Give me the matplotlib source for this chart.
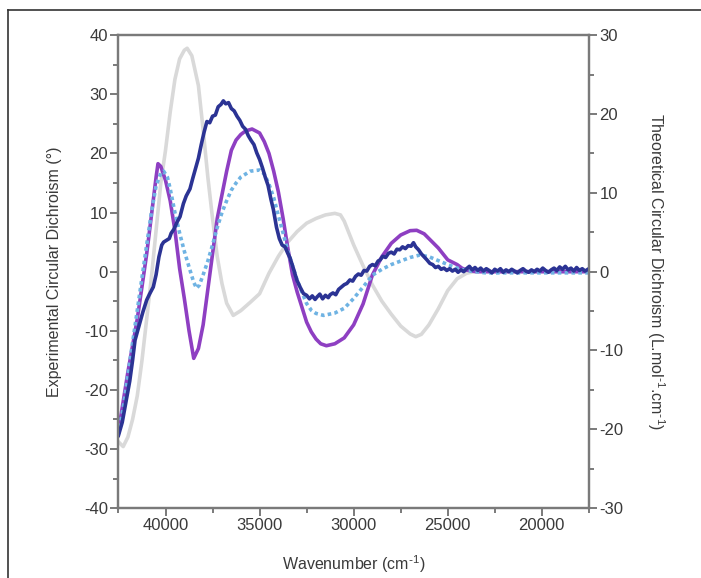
import matplotlib
matplotlib.use("Agg")
import matplotlib.pyplot as plt
from matplotlib import ticker
from matplotlib.lines import Line2D

plt.rcParams["font.family"] = ["Liberation Sans", "DejaVu Sans"]
plt.rcParams["mathtext.default"] = "regular"
plt.rcParams["axes.unicode_minus"] = False

# experimental CD (left axis, degrees)
exp_wn = [42500, 42300, 42100, 41900, 41750, 41620, 41500, 41350, 41200, 41000, 40850, 40650,
          40500, 40350, 40200, 40100, 39950, 39800, 39700, 39550, 39400, 39229, 39050, 38900,
          38700, 38550, 38400, 38250, 38100, 37950, 37800, 37650, 37500, 37350, 37200, 37050,
          36926, 36800, 36650, 36500, 36350, 36200, 36050, 35900, 35750, 35600, 35450, 35300,
          35150, 35000, 34850, 34700, 34550, 34400, 34266, 34100, 33950, 33800, 33650, 33500,
          33378, 33200, 33022, 32850, 32670, 32500, 32350, 32200, 32050, 31950, 31800, 31650,
          31500, 31350, 31250, 31100, 30950, 30800, 30650, 30500, 30362, 30200, 30050, 29900,
          29750, 29600, 29450, 29300, 29150, 29000, 28850, 28700, 28590, 28450, 28300, 28150,
          28000, 27850, 27700, 27550, 27400, 27250, 27100, 26950, 26820, 26700, 26550, 26400,
          26250, 26107, 25950, 25800, 25650, 25500, 25350, 25200, 25050, 24900, 24750, 24600,
          24450, 24300, 24150, 24000, 23850, 23700, 23550, 23400, 23250, 23100, 22950, 22800,
          22650, 22500, 22350, 22200, 22050, 21900, 21750, 21600, 21450, 21300, 21150, 21000,
          20850, 20700, 20550, 20400, 20250, 20100, 19950, 19800, 19650, 19500, 19350, 19200,
          19050, 18900, 18750, 18600, 18450, 18300, 18150, 18000, 17850, 17700, 17550]
exp_cd = [-27.7, -25.5, -22.0, -18.5, -15.0, -11.6, -10.2, -8.5, -6.8, -4.8, -3.8, -2.6,
          -0.5, 2.5, 4.5, 5.0, 5.3, 5.6, 6.5, 7.2, 8.3, 9.3, 11.5, 12.8,
          14.0, 15.8, 17.5, 19.2, 21.5, 23.6, 25.4, 25.2, 26.3, 26.5, 27.9, 28.3,
          28.9, 28.4, 28.6, 27.6, 27.2, 26.3, 25.6, 24.6, 24.1, 23.0, 22.2, 21.5,
          20.1, 19.0, 17.6, 16.0, 14.6, 12.3, 10.5, 7.5, 5.6, 4.5, 4.2, 3.1,
          2.3, 0.5, -1.4, -2.6, -3.7, -4.0, -4.6, -4.1, -4.7, -4.3, -3.8, -4.6,
          -4.0, -4.4, -3.9, -3.6, -3.9, -3.0, -2.6, -2.2, -2.0, -1.4, -1.6, -0.8,
          -0.4, -0.6, 0.2, 0.1, 0.9, 1.2, 1.0, 1.8, 2.0, 2.6, 2.4, 3.1,
          3.3, 3.0, 3.8, 3.7, 4.2, 3.9, 4.4, 4.3, 4.9, 4.2, 3.7, 3.0,
          2.5, 2.0, 1.4, 1.2, 0.7, 0.9, 0.4, 0.6, 0.2, 0.5, 0.1, 0.4,
          -0.1, 0.3, 0.0, 0.5, 0.9, 0.3, 0.7, 0.2, 0.6, 0.1, 0.5, 0.2,
          -0.2, 0.4, 0.1, 0.5, -0.1, 0.3, 0.0, 0.4, 0.1, -0.2, 0.2, 0.5,
          0.1, -0.1, 0.3, 0.0, 0.4, 0.1, 0.6, 0.2, -0.1, 0.3, 0.6, 0.2,
          0.8, 0.4, 0.9, 0.3, 0.6, 0.1, 0.7, 0.2, 0.5, 0.1, 0.4]

# theoretical CD (right axis, L.mol-1.cm-1)
purple_wn = [42500, 42250, 42000, 41750, 41500, 41250, 41000, 40750, 40500, 40400, 40250, 40000,
             39750, 39500, 39250, 39000, 38750, 38500, 38250, 38000, 37750, 37500, 37250, 37000,
             36750, 36500, 36250, 36000, 35750, 35400, 35000, 34750, 34500, 34250, 34000, 33750,
             33500, 33250, 33000, 32750, 32500, 32250, 32000, 31750, 31450, 31000, 30500, 30000,
             29500, 29000, 28500, 28000, 27500, 27000, 26650, 26250, 25750, 25500, 25250, 25000,
             24500, 24250, 24000, 23500, 17500]
purple_cd = [-20.25, -16.5, -12.75, -9.4, -6.0, -1.9, 2.25, 7.1, 12.0, 13.7, 13.35, 11.6,
             9.0, 5.25, 0.4, -3.4, -7.5, -11.0, -9.75, -6.75, -2.25, 2.25, 6.75, 9.75,
             12.75, 15.4, 16.7, 17.4, 17.85, 18.1, 17.6, 16.5, 15.0, 12.75, 10.1, 6.75,
             3.0, -0.4, -2.6, -4.5, -6.4, -7.65, -8.55, -9.15, -9.4, -9.15, -8.4, -6.75,
             -4.1, -0.4, 1.9, 3.6, 4.65, 5.2, 5.25, 4.8, 3.6, 3.0, 2.25, 1.5,
             0.9, 0.45, 0.2, 0.0, 0.0]

lightblue_wn = [42500, 42250, 42000, 41750, 41500, 41250, 41000, 40750, 40500, 40250, 40100, 39900,
                39750, 39500, 39250, 39000, 38750, 38500, 38350, 38200, 38000, 37750, 37500, 37250,
                37000, 36750, 36500, 36250, 36000, 35500, 35000, 34750, 34500, 34250, 34000, 33750,
                33500, 33250, 33000, 32750, 32500, 32250, 32000, 31600, 31000, 30500, 30000, 29500,
                29000, 28500, 28000, 27500, 27000, 26500, 26000, 25500, 25000, 24500, 24000, 23500,
                23000, 17500]
lightblue_cd = [-20.6, -17.25, -13.1, -9.0, -4.9, -0.75, 3.4, 7.5, 10.9, 12.5, 12.75, 12.0,
                10.5, 7.5, 4.9, 2.6, 0.6, -1.35, -2.1, -1.7, -0.4, 1.35, 3.4, 5.6,
                7.5, 9.0, 10.35, 11.25, 12.0, 12.75, 12.9, 12.4, 11.1, 9.4, 7.1, 4.9,
                2.6, 0.75, -1.1, -2.6, -4.05, -4.9, -5.3, -5.55, -5.25, -4.65, -3.4, -1.95,
                -0.45, 0.3, 0.9, 1.35, 1.8, 2.1, 1.9, 1.4, 0.9, 0.45, 0.15, 0.0,
                -0.15, -0.15]

gray_wn = [42500, 42250, 42000, 41750, 41500, 41250, 41000, 40750, 40500, 40250, 40000, 39750,
           39500, 39250, 39000, 38850, 38600, 38250, 38000, 37750, 37500, 37250, 37000, 36750,
           36400, 36000, 35500, 35000, 34500, 34000, 33500, 33000, 32500, 32000, 31500, 31000,
           30700, 30500, 30000, 29500, 29000, 28500, 28000, 27500, 27000, 26700, 26400, 26000,
           25500, 25000, 24500, 24000, 23600, 17500]
gray_cd = [-21.6, -22.2, -21.0, -18.75, -15.75, -11.25, -6.0, -0.75, 5.25, 11.25, 15.4, 20.25,
           24.4, 27.0, 28.1, 28.35, 27.4, 23.6, 18.0, 12.0, 6.75, 1.9, -1.5, -4.0,
           -5.55, -4.95, -3.9, -2.8, -0.2, 1.95, 3.75, 5.1, 6.15, 6.75, 7.2, 7.4,
           7.2, 6.4, 3.4, 0.75, -1.7, -3.75, -5.4, -6.9, -7.9, -8.25, -7.95, -6.75,
           -4.7, -2.4, -0.9, -0.2, 0.0, 0.0]

left_ticks = [-40, -30, -20, -10, 0, 10, 20, 30, 40]
right_ticks = [-30, -20, -10, 0, 10, 20, 30]
x_ticks = [40000, 35000, 30000, 25000, 20000]

spine_c = "#7a7a7a"
text_c = "#3a3a3a"

fig = plt.figure(figsize=(7.01, 5.78), dpi=100)
ax = fig.add_axes([0.169, 0.121, 0.671, 0.818])
ax2 = ax.twinx()
ax.set_zorder(ax2.get_zorder() + 1)
ax.patch.set_visible(False)

ax2.plot(gray_wn, gray_cd, color="#d9d9d9", lw=2.6, solid_joinstyle="round")
ax2.plot(purple_wn, purple_cd, color="#8e3fc2", lw=2.6, solid_joinstyle="round")
ax2.plot(lightblue_wn, lightblue_cd, color="#6fb3e3", lw=2.6, linestyle=(0, (1, 0.9)))
ax.plot(exp_wn, exp_cd, color="#2b3394", lw=2.6, solid_joinstyle="round")

ax.set_xlim(42500, 17500)
ax.set_ylim(-40, 40)
ax2.set_ylim(-30, 30)

ax.set_xticks(x_ticks)
ax.set_yticks(left_ticks)
ax2.set_yticks(right_ticks)
ax.xaxis.set_minor_locator(ticker.MultipleLocator(2500))
ax.yaxis.set_minor_locator(ticker.MultipleLocator(5))
ax2.yaxis.set_minor_locator(ticker.MultipleLocator(5))

for a in (ax, ax2):
    for s in a.spines.values():
        s.set_color(spine_c)
        s.set_linewidth(1.6)
    a.tick_params(which="major", direction="out", length=5.5, width=1.4, color=spine_c,
                  labelsize=12, labelcolor=text_c, pad=2)
    a.tick_params(which="minor", direction="out", length=3.5, width=1.4, color=spine_c)

ax.set_xlabel("Wavenumber (cm$^{\\text{-}1}$)", fontsize=11.5, color=text_c, labelpad=14)
ax.set_ylabel("Experimental Circular Dichroism (\u00b0)", fontsize=11.5, color=text_c, labelpad=16)
ax2.set_ylabel("Theoretical Circular Dichroism (L.mol$^{\\text{-}1}$.cm$^{\\text{-}1}$)", fontsize=11.5,
               color=text_c, rotation=-90, labelpad=31)

# outer frame (left and top edges visible in the picture)
fig.add_artist(Line2D([0.012, 0.012], [0.0, 0.983], transform=fig.transFigure, color="#333333", lw=1.2))
fig.add_artist(Line2D([0.012, 1.0], [0.983, 0.983], transform=fig.transFigure, color="#333333", lw=1.2))

fig.savefig("out.png", dpi=100)
plt.close(fig)
